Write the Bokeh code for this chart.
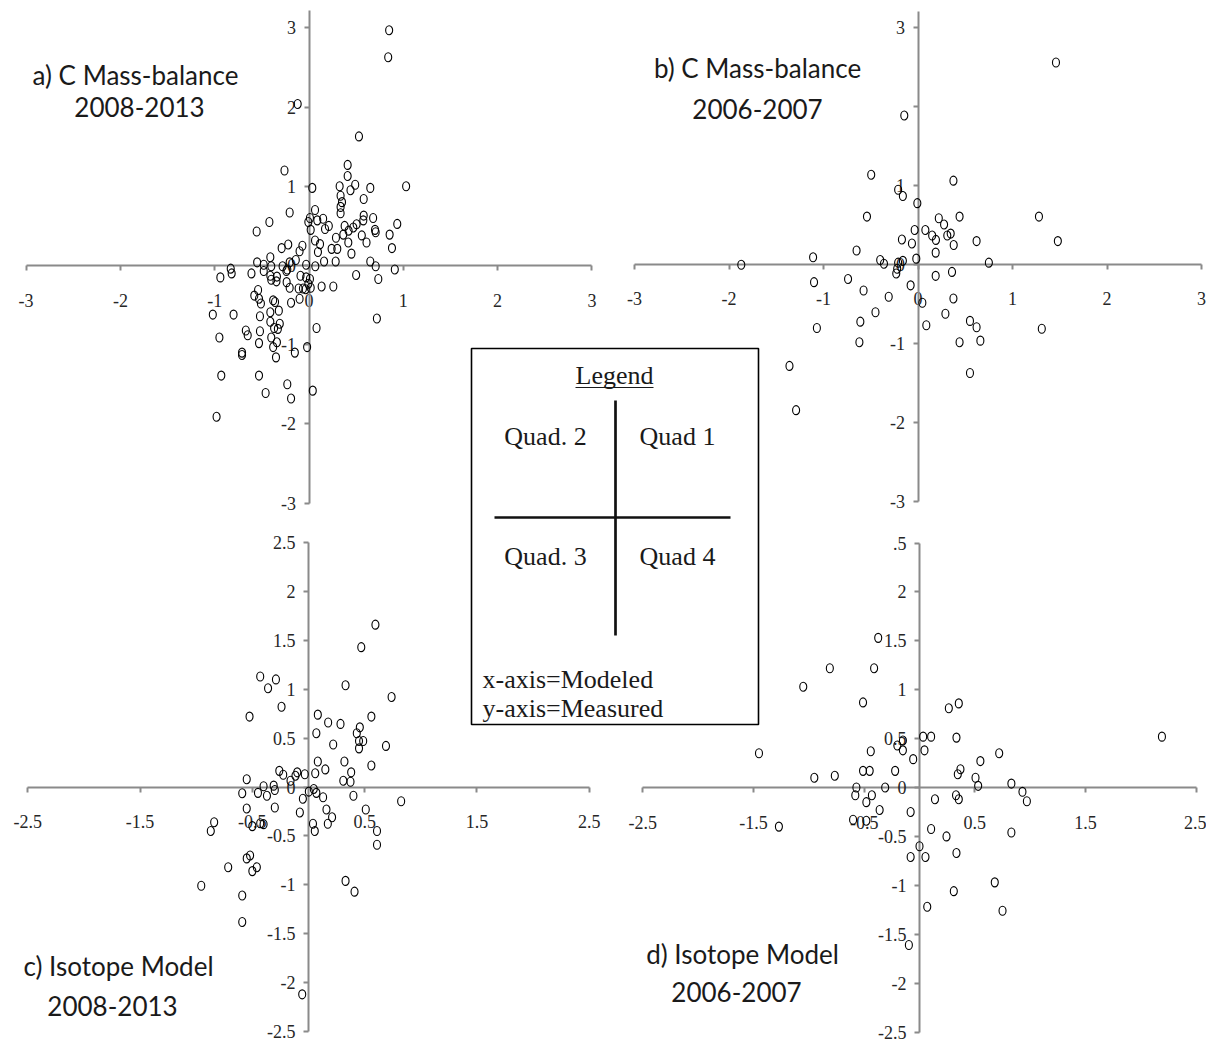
from bokeh.plotting import figure
from bokeh.models import Range1d, LinearAxis, FixedTicker
from bokeh.core.properties import value
from bokeh.embed import file_html
from bokeh.resources import INLINE

# ---------------- data (modeled x, measured y) ----------------
a_x = [0.85, 0.84, -0.12, 0.53, 0.41, 0.41, -0.26, 0.035, 0.325, 0.49, 0.44, 0.65, 1.03, 0.335, 0.58,
       0.35, 0.335, 0.335, -0.205, -0.42, -0.555, 0.064, 0.01, -0.007, 0.088, 0.15, 0.17, 0.21, 0.018,
       0.58, 0.576, 0.68, 0.505, 0.47, 0.378, 0.42, 0.70, 0.707, 0.936, 0.855, 0.88, 0.56, 0.61, 0.364,
       0.286, 0.417, 0.45, 0.30, 0.24, 0.283, 0.064, 0.117, 0.095, 0.16, -0.07, -0.10, -0.14, -0.22,
       -0.29, -0.205, -0.41, -0.55, -0.48, -0.40, -0.28, -0.23, -0.24, -0.03, 0.067, 0.65, 0.707, 0.91,
       0.50, 0.735, -0.83, -0.82, -0.94, -0.61, -0.48, -0.41, -0.34, -0.345, -0.40, -0.237, -0.205,
       -0.09, -0.03, 0.01, -0.007, -0.064, -0.11, -0.035, 0.018, 0.134, 0.258, -0.54, -0.58, -0.53,
       -0.51, -0.38, -0.36, -0.19, -0.10, -1.02, -0.80, -0.52, 0.72, -0.41, -0.32, -0.41, -0.31, -0.37,
       -0.33, -0.67, -0.65, -0.52, -0.95, -0.53, -0.40, -0.38, -0.34, -0.71, -0.71, -0.35, -0.15, -0.02,
       0.08, -0.93, -0.53, -0.46, -0.23, -0.19, 0.04, -0.98]
a_y = [2.97, 2.63, 2.04, 1.63, 1.27, 1.13, 1.20, 0.98, 1.00, 1.02, 0.95, 0.98, 1.00, 0.88, 0.84,
       0.80, 0.74, 0.66, 0.67, 0.55, 0.43, 0.70, 0.60, 0.55, 0.57, 0.59, 0.46, 0.50, 0.45,
       0.63, 0.57, 0.60, 0.52, 0.48, 0.50, 0.44, 0.45, 0.42, 0.525, 0.39, 0.22, 0.38, 0.29, 0.39,
       0.35, 0.29, 0.15, 0.21, 0.21, 0.05, 0.315, 0.27, 0.17, 0.05, 0.25, 0.18, 0.07, 0.265,
       0.22, 0.04, 0.105, 0.04, 0.01, -0.01, -0.01, -0.05, -0.07, 0.01, -0.01, 0.05, -0.01, -0.05,
       -0.12, -0.17, -0.04, -0.10, -0.15, -0.10, -0.07, -0.13, -0.14, -0.20, -0.18, -0.21, -0.28,
       -0.13, -0.15, -0.17, -0.23, -0.29, -0.29, -0.30, -0.28, -0.265, -0.265, -0.31, -0.38, -0.42,
       -0.48, -0.44, -0.46, -0.47, -0.42, -0.62, -0.62, -0.64, -0.67, -0.59, -0.57, -0.71, -0.735, -0.79,
       -0.80, -0.82, -0.88, -0.83, -0.91, -0.98, -0.91, -1.03, -0.97, -1.10, -1.13, -1.16, -1.10, -1.03,
       -0.79, -1.39, -1.39, -1.61, -1.50, -1.68, -1.58, -1.91]

b_x = [1.46, -0.145, -0.495, 0.375, -0.21, -0.16, -0.007, -0.54, 0.22, 0.44, 0.276, 1.28, -0.035, 0.078,
       0.15, 0.19, 0.31, 0.346, 0.378, -0.17, -0.064, 0.62, 1.48, 0.187, -0.018, -0.16, -0.21, -0.40,
       -0.36, 0.75, -0.22, -0.23, 0.187, 0.36, -0.078, -0.576, -0.31, 0.046, 0.375, -0.45, 0.29, 0.088,
       0.55, 0.62, -0.61, -0.62, 0.44, 0.66, 1.31, 0.55, -1.87, -1.11, -0.65, -1.10, -0.74, -1.07,
       -1.36, -1.29]
b_y = [2.55, 1.88, 1.13, 1.055, 0.94, 0.86, 0.77, 0.60, 0.58, 0.60, 0.50, 0.60, 0.43, 0.43,
       0.36, 0.305, 0.36, 0.385, 0.24, 0.31, 0.26, 0.29, 0.29, 0.144, 0.068, 0.04, 0.017, 0.05,
       0.004, 0.017, -0.06, -0.12, -0.15, -0.10, -0.27, -0.335, -0.415, -0.49, -0.436, -0.61, -0.63, -0.775,
       -0.72, -0.80, -0.73, -0.99, -0.99, -0.97, -0.82, -1.38, -0.01, 0.085, 0.17, -0.23, -0.19, -0.81,
       -1.29, -1.85]

c_x = [0.596, 0.47, -0.43, -0.29, -0.36, 0.33, 0.74, -0.24, -0.525, 0.083, 0.175, 0.285, 0.56, 0.457,
       0.43, 0.45, 0.487, 0.45, 0.07, 0.22, 0.69, 0.56, 0.083, 0.15, 0.32, 0.38, 0.374, 0.31, 0.06,
       -0.033, -0.10, -0.116, -0.26, -0.225, -0.16, -0.55, -0.40, -0.31, -0.30, -0.59, -0.45, -0.37,
       0.003, 0.047, 0.07, 0.13, -0.05, 0.40, 0.825, -0.30, -0.55, -0.077, 0.16, 0.21, 0.172, 0.51,
       -0.50, -0.43, -0.40, -0.84, -0.87, 0.04, 0.056, 0.61, 0.61, -0.52, -0.55, -0.715, -0.46, -0.50,
       -0.955, -0.59, -0.59, -0.056, 0.33, 0.41]
c_y = [1.66, 1.43, 1.13, 1.10, 1.01, 1.04, 0.92, 0.82, 0.72, 0.74, 0.66, 0.645, 0.72, 0.61,
       0.55, 0.47, 0.47, 0.395, 0.55, 0.435, 0.42, 0.22, 0.26, 0.18, 0.26, 0.15, 0.054, 0.064, 0.14,
       0.13, 0.15, 0.115, 0.165, 0.125, 0.064, 0.08, 0.007, 0.014, -0.03, -0.064, -0.06, -0.09,
       -0.047, -0.02, -0.06, -0.105, -0.12, -0.09, -0.145, -0.21, -0.22, -0.26, -0.23, -0.31, -0.375, -0.23,
       -0.40, -0.37, -0.38, -0.36, -0.45, -0.375, -0.45, -0.45, -0.59, -0.70, -0.73, -0.82, -0.82, -0.86,
       -1.01, -1.11, -1.38, -2.12, -0.96, -1.07]

d_x = [-0.373, -0.81, -0.41, -1.05, -0.51, -1.45, -0.95, -0.765, -0.51, -0.45, -0.44, -0.22, -0.31,
       -0.57, -0.58, -0.43, -0.48, -0.36, -0.60, -0.48, -1.27, -0.20, -0.15, -0.15, -0.057, 0.033, 0.105,
       0.045, 0.265, 0.355, 0.334, 0.346, 0.37, 0.14, 0.33, 0.355, -0.08, 0.105, 0.244, 0.0, -0.08,
       0.054, 0.334, 2.19, 0.72, 0.55, 0.506, 0.53, 0.83, 0.93, 0.97, 0.83, 0.68, 0.31, 0.07, 0.75,
       -0.096]
d_y = [1.53, 1.22, 1.22, 1.03, 0.87, 0.35, 0.10, 0.12, 0.17, 0.17, 0.37, 0.17, 0.0,
       0.0, -0.08, -0.08, -0.15, -0.23, -0.33, -0.34, -0.40, 0.43, 0.48, 0.38, 0.29, 0.52, 0.52,
       0.38, 0.81, 0.86, 0.51, 0.136, 0.187, -0.12, -0.08, -0.12, -0.25, -0.425, -0.50, -0.60, -0.71,
       -0.71, -0.67, 0.52, 0.35, 0.27, 0.10, 0.017, 0.04, -0.044, -0.14, -0.46, -0.97, -1.06, -1.22, -1.26,
       -1.61]

ab_ticks = [-3, -2, -1, 0, 1, 2, 3]
cd_xticks = [-2.5, -1.5, -0.5, 0.5, 1.5, 2.5]
cd_yticks = [-2.5, -2, -1.5, -1, -0.5, 0, 0.5, 1, 1.5, 2, 2.5]

titles = ["a) C Mass-balance", "2008-2013", "b) C Mass-balance", "2006-2007",
          "c) Isotope Model", "2008-2013", "d) Isotope Model", "2006-2007"]
quad_labels = ["Quad. 2", "Quad 1", "Quad. 3", "Quad 4"]
axis_notes = ["x-axis=Modeled", "y-axis=Measured"]

# ---------------- canvas (picture pixel coordinates) ----------------
W, H = 1206, 1044
p = figure(width=W, height=H, x_range=Range1d(0, W), y_range=Range1d(H, 0),
           output_backend="svg", toolbar_location=None, x_axis_type=None, y_axis_type=None,
           min_border=0, outline_line_color=None)
p.background_fill_color = "white"

AX_COL = "#8a8a8a"
LBL_COL = "#262626"
TICK_FONT = "Liberation Sans Narrow"

# panel geometry: origin (px), px per unit, axis extents, label overrides
panels = [
    ("a", a_x, a_y, 308.5, 265.0, 94.3, 79.2, ab_ticks, ab_ticks, (-3, 3), (-3, 3.22), {}, {}),
    ("b", b_x, b_y, 917.5, 263.5, 94.5, 79.0, ab_ticks, ab_ticks, (-3, 3), (-3, 3.2), {}, {2: ""}),
    ("c", c_x, c_y, 308.0, 786.5, 112.3, 97.8, cd_xticks, cd_yticks, (-2.5, 2.5), (-2.5, 2.5), {}, {}),
    ("d", d_x, d_y, 919.0, 787.0, 110.7, 97.8, cd_xticks, cd_yticks, (-2.5, 2.5), (-2.5, 2.5), {}, {2.5: ".5"}),
]

def fmt(t):
    return "%g" % t

exr, eyr = {}, {}
for (nm, xs, ys, ox, oy, sx, sy, xt, yt, xb, yb, xo, yo) in panels:
    exr[nm + "x"] = Range1d((0 - ox) / sx, (W - ox) / sx)
    eyr[nm + "y"] = Range1d((oy - H) / sy, (oy - 0) / sy)
p.extra_x_ranges = exr
p.extra_y_ranges = eyr

for (nm, xs, ys, ox, oy, sx, sy, xt, yt, xb, yb, xo, yo) in panels:
    xn, yn = nm + "x", nm + "y"
    xov = {t: fmt(t) for t in xt}
    xov.update(xo)
    yov = {t: fmt(t) for t in yt}
    yov.update(yo)
    xa = LinearAxis(x_range_name=xn, y_range_name=yn, fixed_location=0, bounds=xb,
                    ticker=FixedTicker(ticks=xt), major_label_overrides=xov)
    ya = LinearAxis(x_range_name=xn, y_range_name=yn, fixed_location=0, bounds=yb,
                    ticker=FixedTicker(ticks=yt), major_label_overrides=yov)
    for ax in (xa, ya):
        ax.axis_line_color = AX_COL
        ax.axis_line_width = 2
        ax.major_tick_line_color = AX_COL
        ax.major_tick_line_width = 2
        ax.major_tick_in = 0
        ax.major_tick_out = 5
        ax.minor_tick_line_color = None
        ax.major_label_text_font = TICK_FONT
        ax.major_label_text_font_size = "18px"
        ax.major_label_text_color = LBL_COL
    xa.major_label_standoff = 23
    ya.major_label_standoff = 8
    p.add_layout(xa, "below")
    p.add_layout(ya, "left")
    p.ellipse(x=xs, y=ys, width=7, height=9, width_units="screen", height_units="screen",
              fill_color=None, line_color="black", line_width=1.1,
              x_range_name=xn, y_range_name=yn, level="overlay")

# ---------------- panel titles ----------------
p.text(x=[135, 139, 757, 757, 118, 112, 742, 736],
       y=[74, 106, 67, 108, 965, 1005, 953, 991],
       text=titles, text_font=value("Lato"), text_font_size="26px",
       text_color="#1a1a1a", text_align="center", text_baseline="middle")

# ---------------- legend box ----------------
p.quad(left=[471], right=[758], top=[348], bottom=[724], fill_color="white",
       line_color="black", line_width=1.6)
p.segment(x0=[615, 494], y0=[400, 517], x1=[615, 730], y1=[635, 517],
          line_color="#111111", line_width=2.7)
p.text(x=[614], y=[375], text=["Legend"], text_font=value("Liberation Serif"),
       text_font_size="26px", text_color="#1a1a1a", text_align="center",
       text_baseline="middle")
p.segment(x0=[575], y0=[387], x1=[653], y1=[387], line_color="#1a1a1a", line_width=1.2)
p.text(x=[545, 677, 545, 677], y=[436, 436, 556, 556], text=quad_labels,
       text_font=value("Liberation Serif"), text_font_size="26px", text_color="#1a1a1a",
       text_align="center", text_baseline="middle")
p.text(x=[482, 482], y=[679, 708], text=axis_notes,
       text_font=value("Liberation Serif"), text_font_size="26px", text_color="#1a1a1a",
       text_align="left", text_baseline="middle")

open("out.html", "w").write(file_html(p, INLINE))
